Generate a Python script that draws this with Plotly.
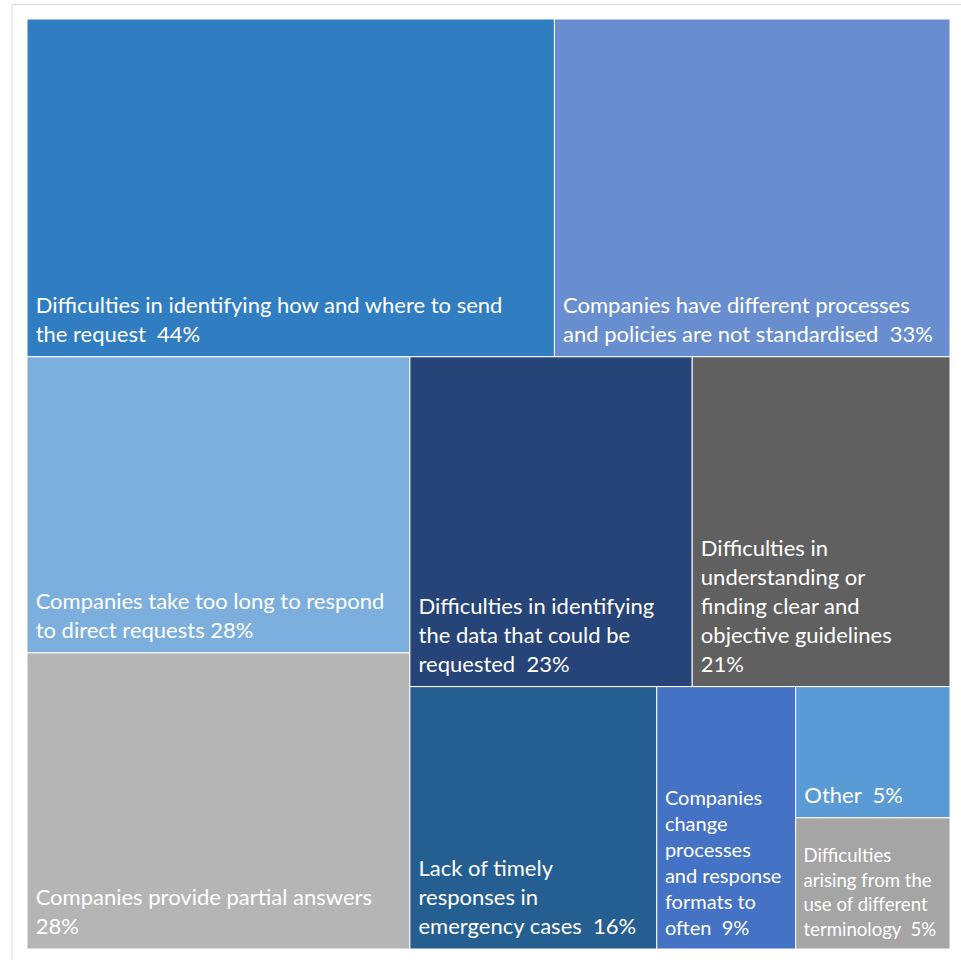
import plotly.graph_objects as go

# Reported difficulties when requesting data from service providers (% of respondents)
categories = [
    "Difficulties in identifying how and where to send the request",
    "Companies have different processes and policies are not standardised",
    "Companies take too long to respond to direct requests",
    "Companies provide partial answers",
    "Difficulties in identifying the data that could be requested",
    "Difficulties in understanding or finding clear and objective guidelines",
    "Lack of timely responses in emergency cases",
    "Companies change processes and response formats to often",
    "Other",
    "Difficulties arising from the use of different terminology",
]
values = [44, 33, 28, 28, 23, 21, 16, 9, 5, 5]

# Line-wrapped versions of the category names for the tile labels
wrapped = [
    ["Difficulties in identifying how and where to send", "the request"],
    ["Companies have different processes", "and policies are not standardised"],
    ["Companies take too long to respond", "to direct requests"],
    ["Companies provide partial answers"],
    ["Difficulties in identifying", "the data that could be", "requested"],
    ["Difficulties in", "understanding or", "finding clear and", "objective guidelines"],
    ["Lack of timely", "responses in", "emergency cases"],
    ["Companies", "change", "processes", "and response", "formats to", "often"],
    ["Other"],
    ["Difficulties", "arising from the", "use of different", "terminology"],
]
# text placed between the name and its percentage (None = own line)
value_separator = ["\u00a0\u00a0", "\u00a0\u00a0", " ", None, "\u00a0\u00a0",
                   None, "\u00a0\u00a0", "\u00a0\u00a0", "\u00a0\u00a0", "\u00a0\u00a0"]

colors = ["#317DC1", "#698ED0", "#7CAFDD", "#B5B5B5", "#264478",
          "#606060", "#255E91", "#4472C4", "#5B9BD5", "#A5A5A5"]
glyph_sizes = [22, 22, 22, 22, 22, 22, 22, 20, 22, 18.6]
line_pitch = [29, 29, 29, 29, 29, 29, 29, 26, 29, 24.5]

# Plotly spaces lines at 1.3x the base font size; the base size is kept
# small and each visible line is separated by three breaks so the pitch
# can be tuned independently of the glyph size.  A tiny trailing line
# lifts the block off the bottom edge of the tile.
BREAKS_PER_LINE = 3
base_sizes = [p / (BREAKS_PER_LINE * 1.3) for p in line_pitch]
INDENT = "\u00a0"

texts = []
for lines, sep, v, g in zip(wrapped, value_separator, values, glyph_sizes):
    lines = list(lines)
    if sep is None:
        lines.append(f"{v}%")
    else:
        lines[-1] = f"{lines[-1]}{sep}{v}%"
    spans = [f"<span style='font-size:{g}px'>{INDENT}{ln}</span>" for ln in lines]
    body = ("<br>" * BREAKS_PER_LINE).join(spans)
    texts.append(body + "<br><span style='font-size:8px'>\u00a0</span>")

root = "All responses"
fig = go.Figure(go.Treemap(
    ids=[root] + categories,
    labels=[root] + categories,
    parents=[""] + [root] * len(categories),
    values=[sum(values)] + values,
    branchvalues="total",
    text=[""] + texts,
    textinfo="text",
    textposition="bottom left",
    textfont=dict(family="Lato", color="white", size=[10] + base_sizes),
    marker=dict(colors=["white"] + colors,
                line=dict(color="white", width=1),
                pad=dict(t=0, l=0, r=0, b=0)),
    tiling=dict(packing="squarify", squarifyratio=1, pad=0),
    pathbar=dict(visible=False),
    sort=True,
    hoverinfo="label+value",
))

W, H = 961, 960
ml, mr, mt, mb = 27, 11, 19, 11
pw, ph = W - ml - mr, H - mt - mb

# Light chart-area frame
fig.add_shape(
    type="rect", xref="paper", yref="paper",
    x0=(12 - ml) / pw, x1=(W + 5 - ml) / pw,
    y0=-(mb + 5) / ph, y1=1 + (mt - 4.5) / ph,
    line=dict(color="#D9D9D9", width=1), fillcolor="rgba(0,0,0,0)",
    layer="below",
)

fig.update_layout(
    width=W, height=H,
    margin=dict(l=ml, r=mr, t=mt, b=mb),
    paper_bgcolor="white",
    font=dict(family="Lato"),
)

fig.write_html("out.html")
